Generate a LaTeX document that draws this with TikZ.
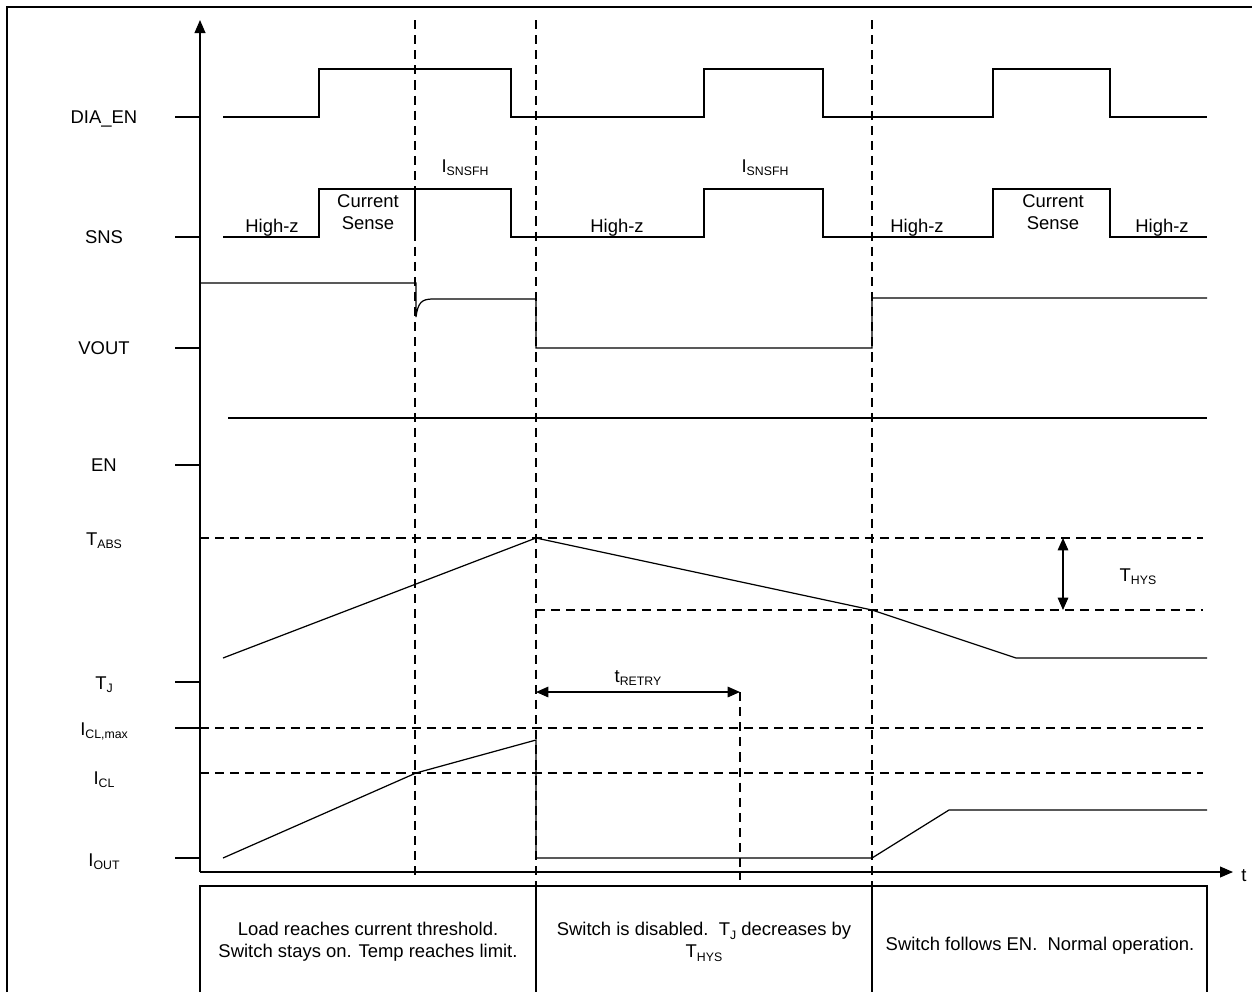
\documentclass[tikz,border=0pt]{standalone}
\usepackage{fontspec}
\setmainfont{Liberation Sans}
\usetikzlibrary{arrows.meta}
\newcommand\sbs[1]{\raisebox{-0.35ex}{\fontsize{7}{8}\selectfont #1}}
\tikzset{
  x=0.02cm, y=-0.02cm,
  sig/.style={line width=0.7pt, line join=miter},
  dsh/.style={line width=0.7pt, dash pattern=on 5.2pt off 3.4pt},
  tck/.style={line width=0.7pt},
  lbl/.style={anchor=base, inner sep=0pt, font=\fontsize{10.5}{12.5}\selectfont},
  box/.style={anchor=center, align=center, inner sep=0pt, font=\fontsize{10.5}{12.5}\selectfont},
  tip/.style={-{Triangle[length=7.4pt,width=6.2pt]}},
  dtip/.style={{Triangle[length=7pt,width=6pt]}-{Triangle[length=7pt,width=6pt]}}
}
\begin{document}
\begin{tikzpicture}
\useasboundingbox (0,0) rectangle (1252,992);
% outer frame
\draw[line width=0.7pt] (7,992) -- (7,7) -- (1252,7);
% axes
\coordinate (o) at (200,872);
\coordinate (ytop) at (200,20);
\coordinate (xend) at (1233,872);
\draw[sig,tip] (o) -- (ytop);
\draw[sig,tip] (o) -- (xend);
\node[lbl, anchor=base west] (t) at (1241,881) {t};
% ticks
\foreach \yy in {117,237,348,465,682,728,858} \draw[tck] (175,\yy) -- (200,\yy);
% signal labels
\node[lbl] (ldia) at (104,123) {DIA\_EN};
\node[lbl] (lsns) at (104,243) {SNS};
\node[lbl] (lvout) at (104,354) {VOUT};
\node[lbl] (len) at (104,471) {EN};
\node[lbl] (ltabs) at (104,545) {T\sbs{ABS}};
\node[lbl] (ltj) at (104,689) {T\sbs{J}};
\node[lbl] (liclm) at (104,735) {I\sbs{CL,max}};
\node[lbl] (licl) at (104,784) {I\sbs{CL}};
\node[lbl] (liout) at (104,866) {I\sbs{OUT}};
% vertical dashed lines
\draw[dsh] (415,20) -- (415,878);
\draw[dsh] (536,20) -- (536,886);
\draw[dsh] (872,20) -- (872,886);
\draw[dsh] (740,692) -- (740,880);
% DIA_EN
\draw[sig] (223,117) -- (319,117) -- (319,69) -- (511,69) -- (511,117) -- (704,117) -- (704,69) -- (823,69) -- (823,117) -- (993,117) -- (993,69) -- (1110,69) -- (1110,117) -- (1207,117);
% SNS
\draw[sig] (223,237) -- (319,237) -- (319,189) -- (511,189) -- (511,237) -- (704,237) -- (704,189) -- (823,189) -- (823,237) -- (993,237) -- (993,189) -- (1110,189) -- (1110,237) -- (1207,237);
\draw[sig] (415,189) -- (415,237);
\node[lbl] (hz1) at (272,232) {High-z};
\node[box] (cs1) at (368,212) {Current\\Sense};
\node[lbl] (is1) at (465,172) {I\sbs{SNSFH}};
\node[lbl] (hz2) at (617,232) {High-z};
\node[lbl] (is2) at (765,172) {I\sbs{SNSFH}};
\node[lbl] (hz3) at (917,232) {High-z};
\node[box] (cs2) at (1053,212) {Current\\Sense};
\node[lbl] (hz4) at (1162,232) {High-z};
% VOUT
\draw[sig] (200,283) -- (416,283) -- (416,317) .. controls (418,302) and (422,299) .. (433,299) -- (536,299) -- (536,348) -- (872,348) -- (872,298) -- (1207,298);
% EN
\draw[sig] (228,418) -- (1207,418);
% temperature
\draw[dsh] (200,538) -- (1203,538);
\draw[dsh] (536,610) -- (1203,610);
\draw[sig] (223,658) -- (536,538) -- (872,610) -- (1016,658) -- (1207,658);
\coordinate (hysA) at (1063,538);
\coordinate (hysB) at (1063,610);
\draw[sig,dtip] (hysA) -- (hysB);
\node[lbl] (lhys) at (1138,581) {T\sbs{HYS}};
% retry
\coordinate (rA) at (536,692);
\coordinate (rB) at (740,692);
\draw[sig,dtip] (rA) -- (rB);
\node[lbl] (lretry) at (638,682) {t\sbs{RETRY}};
% current
\draw[dsh] (200,728) -- (1203,728);
\draw[dsh] (200,773) -- (1203,773);
\draw[sig] (223,858) -- (416,773) -- (536,740) -- (536,858) -- (872,858) -- (949,810) -- (1207,810);
% bottom boxes
\draw[sig] (200,992) -- (200,886) -- (1207,886) -- (1207,992);
\draw[sig] (536,886) -- (536,992);
\draw[sig] (872,886) -- (872,992);
\node[box] (b1) at (368,942) {Load reaches current threshold.\\Switch stays on. Temp reaches limit.};
\node[box] (b2) at (704,942) {Switch is disabled.\ \ T\sbs{J} decreases by\\T\sbs{HYS}};
\node[box] (b3) at (1040,946) {Switch follows EN.\ \ Normal operation.};
\end{tikzpicture}
\end{document}
